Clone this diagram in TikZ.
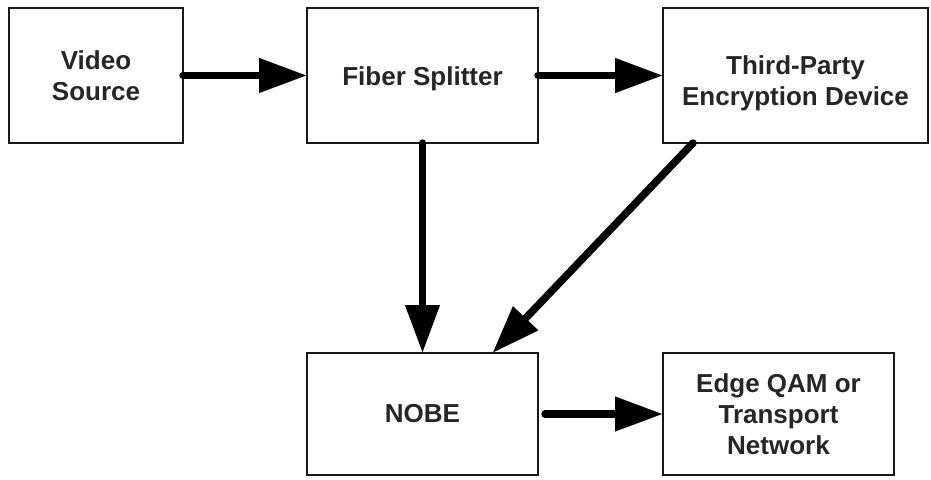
\documentclass[tikz,border=0pt]{standalone}
\usepackage{fontspec}
\setmainfont{Liberation Sans}
\usetikzlibrary{arrows.meta}
\begin{document}
\begin{tikzpicture}[x=1pt,y=-1pt,
  txt/.style={align=center, font=\fontsize{26}{31}\selectfont\bfseries, text=black!85},
  box/.style={draw=black!90, line width=2.6pt, fill=white, inner sep=0pt, outer sep=0pt, txt},
  flow/.style={line width=7.5pt, line cap=round, -{Triangle[length=48pt,width=33pt]}}]
\useasboundingbox (0,0) rectangle (931,479);
\node[box, minimum width=174pt, minimum height=135pt] (vs) at (96,75.5) {Video\\Source};
\node[box, minimum width=231pt, minimum height=135pt,
  label={[txt, yshift=-3pt]center:Fiber Splitter}] (fs) at (422.5,75.5) {};
\node[box, minimum width=265pt, minimum height=135pt,
  label={[txt, yshift=-8pt]center:{Third-Party\\Encryption Device}}] (tpe) at (795.5,75.5) {};
\node[box, minimum width=231pt, minimum height=122pt] (nobe) at (422.5,414) {NOBE};
\node[box, minimum width=231pt, minimum height=122pt] (eq) at (778.5,414) {Edge QAM or\\Transport\\Network};
\coordinate (d1) at ([xshift=30pt]tpe.south west);
\coordinate (d2) at ([xshift=70pt]nobe.north);
\draw[flow] (vs.east) -- (fs.west);
\draw[flow] (fs.east) -- (tpe.west);
\draw[flow] (fs.south) -- (nobe.north);
\draw[flow] (d1) -- (d2);
\draw[flow, shorten <=7pt] (nobe.east) -- (eq.west);
\end{tikzpicture}
\end{document}
